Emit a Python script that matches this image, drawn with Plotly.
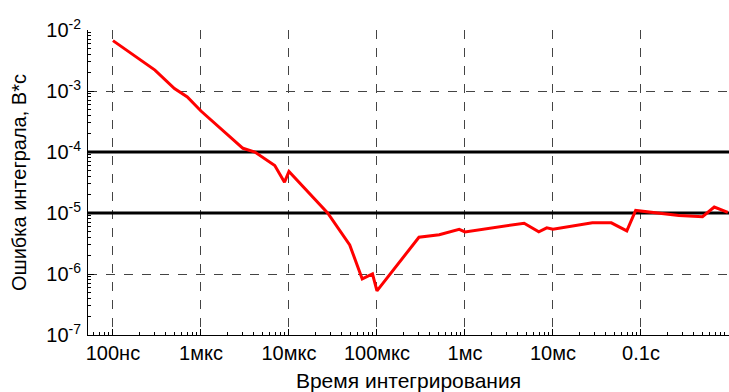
import numpy as np
import plotly.graph_objects as go

# Data (time in seconds, error in V*s)
t_vals = [1e-7, 3e-7, 5e-7, 7e-7, 1e-6, 3e-6, 4.1e-6, 6.9e-6, 8.9e-6, 1e-5,
          2.75e-5, 4.9e-5, 6.8e-5, 8.9e-5, 1e-4, 3e-4, 5.1e-4, 8.6e-4, 1e-3,
          1.45e-3, 4.7e-3, 6.9e-3, 8.5e-3, 1e-2, 2.8e-2, 4.6e-2, 6.9e-2, 8.7e-2,
          0.27, 0.5, 0.68, 0.97]
err_vals = [6.7e-3, 2.2e-3, 1.1e-3, 8e-4, 4.7e-4, 1.15e-4, 1.0e-4, 6e-5, 3.2e-5, 4.8e-5,
            1e-5, 3e-6, 8.3e-7, 1e-6, 5.3e-7, 4e-6, 4.4e-6, 5.4e-6, 4.9e-6,
            5.3e-6, 6.8e-6, 4.9e-6, 5.7e-6, 5.4e-6, 6.9e-6, 6.9e-6, 5.1e-6, 1.1e-5,
            9.1e-6, 8.7e-6, 1.25e-5, 1.02e-5]
limit_levels = [1e-4, 1e-5]

x_tick_vals = [1e-7, 1e-6, 1e-5, 1e-4, 1e-3, 1e-2, 1e-1]
x_tick_text = ["100нс", "1мкс", "10мкс", "100мкс", "1мс", "10мс", "0.1с"]
y_tick_vals = [1e-7, 1e-6, 1e-5, 1e-4, 1e-3, 1e-2]
y_tick_text = ["10<sup>-7</sup>", "10<sup>-6</sup>", "10<sup>-5</sup>",
               "10<sup>-4</sup>", "10<sup>-3</sup>", "10<sup>-2</sup>"]

x_range = [-7.2835, 0.0]
y_range = [-7, -2]

fig = go.Figure()
for lv in limit_levels:
    fig.add_trace(go.Scatter(x=[10 ** x_range[0], 10 ** x_range[1]], y=[lv, lv],
                             mode="lines", line=dict(color="black", width=3),
                             showlegend=False, hoverinfo="skip"))
fig.add_trace(go.Scatter(x=t_vals, y=err_vals, mode="lines",
                         line=dict(color="#ff0000", width=3), showlegend=False))

minor_x = [m * 10.0 ** e for e in range(-8, 1) for m in range(2, 10)]
minor_y = [m * 10.0 ** e for e in range(-8, -1) for m in range(2, 10)]

font_family = "Liberation Sans, Arial, sans-serif"
fig.update_layout(
    width=729, height=392,
    margin=dict(l=88, r=0, t=30, b=57),
    paper_bgcolor="white", plot_bgcolor="white",
    font=dict(family=font_family, size=20, color="black"),
    xaxis=dict(type="log", range=x_range, tickmode="array", automargin=False,
               tickvals=x_tick_vals, ticktext=x_tick_text,
               ticks="inside", ticklen=6, tickcolor="black",
               showline=True, linecolor="black", linewidth=1, mirror=False,
               showgrid=True, gridcolor="#444444", griddash="dash", gridwidth=1,
               zeroline=False,
               minor=dict(tickmode="array", tickvals=minor_x, ticks="inside",
                          ticklen=3, tickcolor="black", showgrid=False),
               title=dict(text="Время интегрирования", standoff=11,
                          font=dict(size=21)),
               tickfont=dict(size=20)),
    yaxis=dict(type="log", range=y_range, tickmode="array", automargin=False,
               tickvals=y_tick_vals, ticktext=y_tick_text,
               ticks="inside", ticklen=6, tickcolor="black",
               showline=True, linecolor="black", linewidth=1, mirror=False,
               showgrid=True, gridcolor="#444444", griddash="dash", gridwidth=1,
               zeroline=False, ticklabelstandoff=2,
               minor=dict(tickmode="array", tickvals=minor_y, ticks="inside",
                          ticklen=3, tickcolor="black", showgrid=False),
               title=dict(text="Ошибка интеграла, В*с", standoff=14,
                          font=dict(size=20)),
               tickfont=dict(size=20)),
)

fig.write_html("out.html", config={"displayModeBar": False},
               post_script="document.body.style.margin='0px';document.body.style.overflow='hidden';")
